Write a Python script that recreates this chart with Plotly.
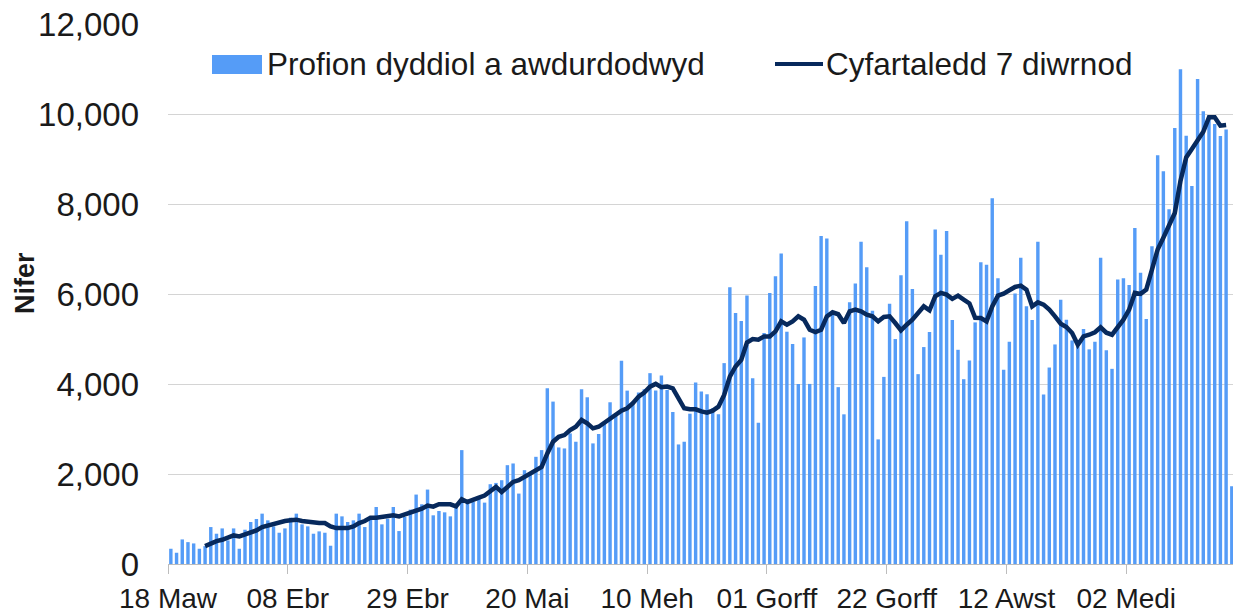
import pandas as pd
import plotly.graph_objects as go

# Daily authorised tests, 18 Mar 2020 onward (one value per day)
daily_tests = [
    339, 250, 546, 486, 457, 339, 397, 821, 673, 791,
    524, 791, 339, 762, 933, 1000, 1119, 970, 836, 695,
    791, 1030, 1119, 881, 836, 673, 725, 695, 406, 1119,
    1059, 933, 970, 1119, 821, 1044, 1267, 881, 1007, 1267,
    732, 1044, 1208, 1543, 1327, 1654, 1082, 1178, 1148, 1059,
    1304, 2531, 1379, 1379, 1453, 1364, 1773, 1802, 1862, 2196,
    2234, 1565, 2085, 2011, 2382, 2531, 3905, 3609, 2590, 2568,
    2902, 2717, 3883, 3705, 2680, 2888, 3162, 3594, 3349, 4515,
    3853, 3608, 3809, 3883, 4241, 3853, 4188, 3868, 3378, 2657,
    2717, 3340, 4032, 3831, 3772, 3460, 3327, 4464, 6150, 5578,
    5400, 5964, 4129, 3140, 5133, 6024, 6395, 6901, 5162, 4887,
    4002, 5035, 4002, 6180, 7287, 7235, 5578, 3930, 3326, 5815,
    6232, 7162, 6596, 5630, 2769, 4158, 5786, 4999, 6417, 7614,
    6113, 4219, 4821, 5155, 7436, 6871, 7398, 5423, 4760, 4107,
    4522, 5369, 6707, 6649, 8127, 6350, 4314, 4939, 6009, 6804,
    5726, 5423, 7162, 3764, 4366, 4879, 5875, 5429, 4968, 4834,
    5222, 4770, 4939, 6805, 4750, 4337, 6321, 6351, 6202, 7465,
    6470, 5445, 7063, 9086, 8729, 7882, 9688, 10996, 9517, 8402,
    10780, 10059, 9963, 9777, 9510, 9658, 1728,
]

# 7-day average (None where not drawn)
avg_7day = [
    None, None, None, None, None, None, 397, 464, 509, 539,
    583, 635, 613, 657, 702, 747, 821, 858, 881, 933,
    955, 970, 985, 955, 933, 910, 910, 910, 836, 799,
    799, 799, 836, 910, 955, 1030, 1030, 1044, 1082, 1082,
    1059, 1104, 1133, 1178, 1230, 1297, 1275, 1327, 1327, 1327,
    1282, 1438, 1379, 1416, 1475, 1520, 1624, 1713, 1601, 1713,
    1824, 1862, 1936, 2011, 2070, 2159, 2456, 2717, 2828, 2865,
    2977, 3050, 3200, 3125, 3014, 3050, 3139, 3237, 3311, 3408,
    3460, 3572, 3720, 3809, 3942, 4002, 3928, 3942, 3905, 3683,
    3460, 3438, 3438, 3390, 3363, 3408, 3497, 3757, 4166, 4389,
    4537, 4923, 4998, 4983, 5058, 5058, 5169, 5392, 5318, 5392,
    5503, 5429, 5206, 5155, 5206, 5503, 5592, 5550, 5355, 5615,
    5652, 5615, 5541, 5503, 5392, 5489, 5503, 5355, 5191, 5318,
    5429, 5578, 5726, 5637, 5949, 6024, 5987, 5891, 5964, 5875,
    5790, 5470, 5466, 5392, 5726, 5964, 6009, 6083, 6157, 6187,
    6098, 5726, 5815, 5764, 5652, 5503, 5340, 5266, 5133, 4872,
    5058, 5095, 5150, 5260, 5140, 5095, 5243, 5429, 5652, 6024,
    6002, 6098, 6543, 6990, 7250, 7510, 7800, 8513, 9034, 9220,
    9405, 9606, 9926, 9926, 9740, 9755, None,
]

start_date = "2020-03-18"
dates = pd.date_range(start_date, periods=len(daily_tests), freq="D")

tick_dates = ["2020-03-18", "2020-04-08", "2020-04-29", "2020-05-20", "2020-06-10",
              "2020-07-01", "2020-07-22", "2020-08-12", "2020-09-02"]
tick_labels = ["18 Maw", "08 Ebr", "29 Ebr", "20 Mai", "10 Meh",
               "01 Gorff", "22 Gorff", "12 Awst", "02 Medi"]
y_ticks = [0, 2000, 4000, 6000, 8000, 10000, 12000]

series_names = ["Profion dyddiol a awdurdodwyd", "Cyfartaledd 7 diwrnod"]
bar_color = "#559CF7"
line_color = "#07295C"
font_family = "Liberation Sans, Arial, sans-serif"
text_color = "#1A1A1A"

# tick marks sit on category boundaries (half a day before each labelled date)
tick_vals = [pd.Timestamp(d) - pd.Timedelta(hours=12) for d in tick_dates]
x_min = pd.Timestamp(start_date) - pd.Timedelta(hours=12)
x_max = dates[-1] + pd.Timedelta(hours=5)

W, H = 1233, 614
ML, MR, MT, MB = 168, 0, 24, 50
PW, PH = W - ML - MR, H - MT - MB


def px_x(p):
    return (p - ML) / PW


def px_y(p):
    return (H - MB - p) / PH


fig = go.Figure()
fig.add_trace(go.Bar(x=dates, y=daily_tests, name=series_names[0],
                     marker=dict(color=bar_color, line=dict(width=0)),
                     showlegend=False, hoverinfo="x+y"))
fig.add_trace(go.Scatter(x=dates, y=avg_7day, name=series_names[1], mode="lines",
                         line=dict(color=line_color, width=4.5, shape="linear"),
                         connectgaps=False, showlegend=False))

# custom legend (swatch + label) placed inside the plot top
shapes = [
    dict(type="rect", xref="paper", yref="paper",
         x0=px_x(212), x1=px_x(262), y0=px_y(74), y1=px_y(55),
         fillcolor=bar_color, line=dict(width=0)),
    dict(type="line", xref="paper", yref="paper",
         x0=px_x(775), x1=px_x(823), y0=px_y(64), y1=px_y(64),
         line=dict(color=line_color, width=4)),
]
annotations = [
    dict(text=series_names[0], xref="paper", yref="paper", x=px_x(265), y=px_y(64),
         xanchor="left", yanchor="middle", showarrow=False,
         font=dict(size=31.5, color=text_color, family=font_family)),
    dict(text=series_names[1], xref="paper", yref="paper", x=px_x(824), y=px_y(64),
         xanchor="left", yanchor="middle", showarrow=False,
         font=dict(size=31.5, color=text_color, family=font_family)),
    dict(text="<b>Nifer</b>", xref="paper", yref="paper", x=px_x(25), y=px_y(283),
         xanchor="center", yanchor="middle", showarrow=False, textangle=-90,
         font=dict(size=27, color=text_color, family=font_family)),
]

fig.update_layout(
    width=W, height=H,
    margin=dict(l=ML, r=MR, t=MT, b=MB, pad=0),
    paper_bgcolor="white", plot_bgcolor="white",
    bargap=0.4,
    font=dict(family=font_family, color=text_color),
    shapes=shapes, annotations=annotations,
    showlegend=False,
)
fig.update_xaxes(
    type="date", range=[x_min, x_max],
    tickmode="array", tickvals=tick_vals, ticktext=tick_labels,
    ticks="outside", ticklen=9, tickcolor="#BDBDBD", tickwidth=1,
    showline=True, linecolor="#BDBDBD", linewidth=1.3,
    showgrid=False, zeroline=False,
    ticklabeloverflow="allow",
    tickfont=dict(size=28, color=text_color, family=font_family),
)
fig.update_yaxes(
    range=[0, 12000], tickmode="array", tickvals=y_ticks,
    tickformat=",d", showgrid=True, gridcolor="#D4D4D4", gridwidth=1.2,
    zeroline=False, showline=False, ticks="",
    ticklabelstandoff=28, ticklabeloverflow="allow",
    tickfont=dict(size=33, color=text_color, family=font_family),
)

# remove the default page margin so the figure sits at the window's top-left
fig.write_html(
    "out.html",
    config={"displayModeBar": False},
    post_script="document.body.style.margin='0';document.body.style.overflow='hidden';",
)
